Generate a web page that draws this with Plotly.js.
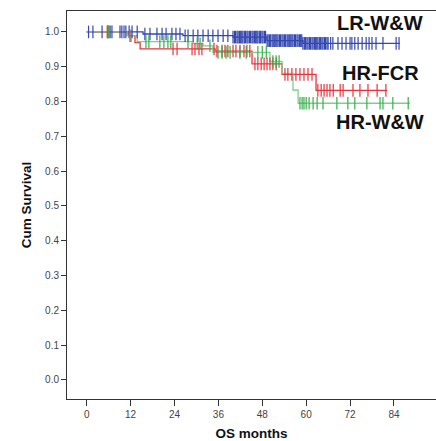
<!DOCTYPE html>
<html>
<head>
<meta charset="utf-8">
<script src="https://cdn.plot.ly/plotly-3.0.1.min.js"></script>
<style>
  html, body { margin: 0; padding: 0; background: #fff; }
  #chart { width: 436px; height: 441px; }
</style>
</head>
<body>
<div id="chart"></div>
<script>
// ---- Data ----
// Step functions: event times (months) and survival after each step
const lrTimes = [0, 15.4, 26.3, 40.0, 49.3, 59.1, 85.6];
const lrSurv  = [1.0, 0.994, 0.989, 0.985, 0.975, 0.967, 0.967];
const lrCensor = [0.5, 1.7, 4.2, 5.8, 6.4, 6.9, 9.1, 9.6, 10.2, 10.7, 11.6, 12.4, 13.8,
  15.9, 17.3, 19.2, 20.6, 21.7, 23.3, 24.4, 25.5, 26.9, 27.7, 29.1, 30.4, 31.8, 33.2,
  34.5, 35.9, 37.3, 38.6, 40.0, 40.4, 40.7, 41.1, 41.4, 41.8, 42.1, 42.4, 42.7, 43.1,
  43.4, 43.8, 44.1, 44.5, 44.8, 45.2, 45.5, 45.9, 46.2, 46.5, 46.8, 47.2, 47.5, 47.9,
  48.2, 48.6, 48.9, 49.3, 49.6, 50.0, 50.3, 50.7, 51.0, 51.4, 51.7, 52.0, 52.3, 52.7,
  53.0, 53.4, 53.7, 54.1, 54.4, 54.8, 55.1, 55.5, 55.8, 56.1, 56.4, 56.8, 57.1, 57.5,
  57.8, 58.2, 58.5, 58.8, 59.1, 59.5, 59.8, 60.2, 60.5, 60.9, 61.2, 61.6, 61.9, 62.3,
  62.6, 62.9, 63.2, 63.6, 63.9, 64.3, 64.6, 65.0, 65.3, 65.7, 66.0, 66.7, 67.3, 68.7,
  69.8, 70.9, 72.0, 72.5, 73.3, 74.2, 75.3, 76.4, 77.2, 78.0, 79.1, 81.0, 84.6, 85.4];

const fcrTimes = [0, 11.3, 13.2, 14.6, 35.1, 45.2, 53.4, 62.7, 82.1];
const fcrSurv  = [1.0, 0.989, 0.969, 0.951, 0.945, 0.908, 0.878, 0.832, 0.832];
const fcrCensor = [5.6, 6.1, 12.1, 23.6, 24.7, 28.8, 29.6, 30.7, 31.5, 34.8, 35.6, 37.0,
  37.8, 38.6, 40.0, 40.8, 41.9, 43.0, 43.8, 44.6, 46.0, 46.8, 47.7, 48.5, 49.3, 50.1,
  50.9, 51.8, 54.2, 55.0, 56.1, 57.2, 58.3, 59.4, 60.5, 61.6, 63.2, 64.1, 64.9, 65.7,
  66.5, 67.4, 69.3, 70.1, 72.8, 74.7, 76.9, 79.4, 81.8];

const wwTimes = [0, 11.0, 13.8, 29.1, 31.8, 34.5, 50.1, 53.4, 56.4, 57.8, 88.4];
const wwSurv  = [1.0, 0.989, 0.972, 0.966, 0.960, 0.941, 0.915, 0.881, 0.833, 0.795, 0.795];
const wwCensor = [5.9, 11.8, 16.2, 17.0, 20.0, 21.1, 22.2, 23.0, 27.7, 30.2, 31.0, 33.7,
  35.9, 37.0, 38.1, 39.2, 41.9, 43.6, 46.8, 48.0, 49.1, 50.9, 51.8, 52.6, 58.3, 58.9,
  59.4, 60.0, 60.8, 61.9, 63.0, 64.6, 68.4, 71.4, 73.3, 76.6, 80.2, 81.0, 83.7, 87.9];

const groupNames = ["LR-W&W", "HR-FCR", "HR-W&W"];
const yTickVals = [0, 0.1, 0.2, 0.3, 0.4, 0.5, 0.6, 0.7, 0.8, 0.9, 1.0];
const xTickVals = [0, 12, 24, 36, 48, 60, 72, 84];

// ---- helpers ----
function survAt(times, surv, t) {
  let s = surv[0];
  for (let i = 0; i < times.length; i++) { if (times[i] <= t) s = surv[i]; }
  return s;
}

const colors = ["#3347b0", "#e8333c", "#35b04a"];
const lineColors = ["#3347b0", "#e8333c", "#7fcf8c"];
const groups = [
  [lrTimes, lrSurv, lrCensor],
  [fcrTimes, fcrSurv, fcrCensor],
  [wwTimes, wwSurv, wwCensor]
];

const traces = [];
groups.forEach((g, i) => {
  traces.push({
    x: g[0], y: g[1], type: "scatter", mode: "lines",
    line: { shape: "hv", color: lineColors[i], width: 1.3 },
    name: groupNames[i], showlegend: false, hoverinfo: "skip"
  });
});
groups.forEach((g, i) => {
  traces.push({
    x: g[2], y: g[2].map(t => survAt(g[0], g[1], t)),
    type: "scatter", mode: "markers",
    marker: { symbol: "line-ns-open", size: 9, color: colors[i],
              line: { color: colors[i], width: 1.2 } },
    name: groupNames[i] + " censored", showlegend: false, hoverinfo: "skip"
  });
});

const labelY = [1.026, 0.882, 0.742];
const annotations = groupNames.map((n, i) => ({
  x: 80.3, y: labelY[i], xref: "x", yref: "y", text: n, showarrow: false,
  font: { family: "Liberation Sans, Arial, sans-serif", size: 20, color: "#111", weight: "bold" },
  xanchor: "center", yanchor: "middle"
}));

const tickFont = { family: "Liberation Sans, Arial, sans-serif", size: 10, color: "#444" };
const titleFont = { family: "Liberation Sans, Arial, sans-serif", size: 13.5, color: "#111", weight: "bold" };

const layout = {
  width: 436, height: 441,
  margin: { l: 67, r: 0, t: 11, b: 42 },
  paper_bgcolor: "#fff", plot_bgcolor: "#fff",
  showlegend: false,
  xaxis: {
    range: [-5.39, 95.5], tickvals: xTickVals, ticktext: xTickVals.map(String),
    ticks: "outside", ticklen: 6, tickcolor: "#333", tickwidth: 1,
    showline: true, linecolor: "#333", linewidth: 1, mirror: true,
    showgrid: false, zeroline: false, tickfont: tickFont,
    title: { text: "OS months", font: titleFont, standoff: 12 }
  },
  yaxis: {
    range: [-0.0546, 1.060], tickvals: yTickVals, ticktext: yTickVals.map(v => v.toFixed(1)),
    ticks: "outside", ticklen: 5, tickcolor: "#333", tickwidth: 1,
    showline: true, linecolor: "#333", linewidth: 1, mirror: false,
    showgrid: false, zeroline: false, tickfont: tickFont,
    title: { text: "Cum Survival", font: titleFont, standoff: 10 }
  },
  annotations: annotations
};

Plotly.newPlot("chart", traces, layout, { staticPlot: true, displayModeBar: false });
</script>
</body>
</html>
